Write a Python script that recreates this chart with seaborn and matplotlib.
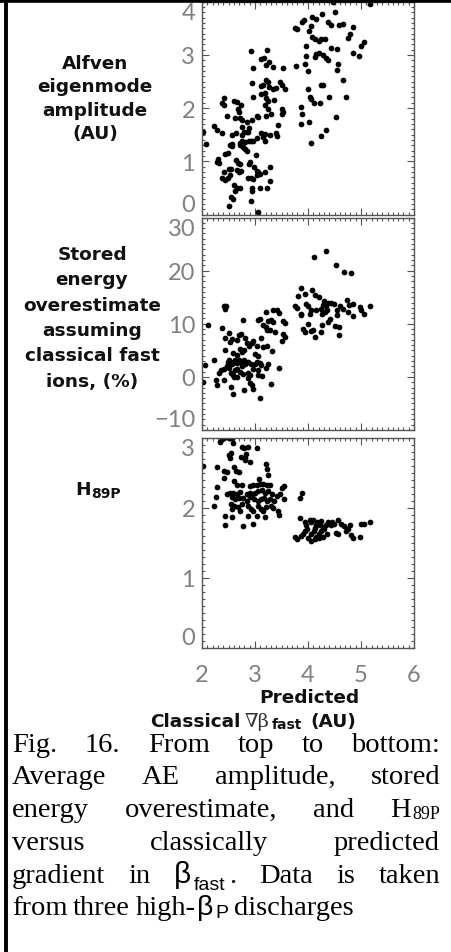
import matplotlib
matplotlib.use("Agg")
import matplotlib.pyplot as plt
import seaborn as sns
import pandas as pd
from matplotlib.ticker import MultipleLocator

# ---------------- data ----------------
# Panel 1: Alfven eigenmode amplitude (AU) vs predicted classical grad beta_fast
ae_x = [4.47, 5.17, 3.75, 3.80, 3.89, 3.92, 4.08, 4.16, 4.27, 4.50, 4.37, 4.43, 4.58, 4.66,
        4.84, 4.05, 4.01, 4.07, 4.14, 4.20, 4.25, 4.32, 4.80, 4.75, 5.06, 5.00, 4.44, 4.55,
        3.96, 4.16, 4.20, 4.28, 4.14, 4.34, 4.37, 3.96, 3.94, 3.78, 4.57, 4.00, 4.54, 4.84,
        4.97, 4.66, 4.24, 4.29, 4.00, 4.03, 4.06, 4.12, 4.22, 4.39, 4.72, 3.86, 3.89, 3.86,
        4.01, 4.52, 4.34, 4.25, 4.06,
        2.93, 3.22, 3.12, 3.17, 3.26, 3.20, 3.34, 3.53, 2.96, 2.94, 3.21, 3.24, 3.12, 3.16,
        3.26, 3.34, 3.39, 3.47, 3.50, 3.56, 3.12, 3.19, 2.97, 3.21, 3.24, 3.35, 3.19, 3.25,
        3.50, 3.53, 3.50, 3.03, 3.06, 3.21, 3.31, 2.94, 3.44, 2.84, 2.75, 2.75, 2.80, 2.84,
        2.87, 2.89, 2.64, 3.12, 3.19, 3.16, 3.39, 3.42, 3.28, 3.03, 2.97, 2.93, 2.88, 2.81,
        2.75, 2.72, 3.18,
        2.41, 2.37, 2.41, 2.61, 2.66, 2.67, 2.69, 2.73, 2.47, 2.62, 2.71, 2.22, 2.28, 2.37,
        2.02, 2.08, 2.56, 2.75, 2.57, 2.56, 2.71, 2.77, 2.81, 2.84, 2.49, 2.43, 2.53, 2.30,
        2.28, 2.32, 2.64, 2.67, 2.71, 3.02, 2.91, 2.89, 2.99, 3.03, 3.05, 3.28, 3.19, 2.42,
        2.51, 2.55, 2.66, 2.69, 2.74, 2.37, 2.44, 2.49, 2.53, 2.87, 2.93, 2.97, 3.03, 3.09,
        3.28, 2.60, 2.66, 2.62, 2.71, 2.94, 2.95, 3.09, 3.22, 2.55, 2.59, 2.92, 2.51, 3.06]
ae_y = [4.00, 3.96, 3.50, 3.48, 3.61, 3.65, 3.71, 3.68, 3.76, 3.80, 3.61, 3.57, 3.57, 3.58,
        3.53, 3.54, 3.44, 3.33, 3.30, 3.27, 3.29, 3.30, 3.39, 3.31, 3.24, 3.16, 3.13, 3.11,
        3.16, 3.02, 3.04, 3.00, 2.96, 2.94, 2.91, 2.98, 2.83, 2.79, 2.83, 2.69, 2.71, 3.04,
        2.97, 2.52, 2.44, 2.44, 2.36, 2.20, 2.17, 2.10, 2.10, 2.20, 2.20, 2.02, 1.88, 1.71,
        1.74, 1.83, 1.58, 1.47, 1.35,
        3.08, 3.10, 2.92, 2.94, 2.87, 2.81, 2.78, 2.75, 2.75, 2.47, 2.52, 2.49, 2.41, 2.43,
        2.39, 2.36, 2.38, 2.50, 2.44, 2.35, 2.27, 2.29, 2.20, 2.19, 2.14, 2.16, 2.05, 1.98,
        1.99, 1.93, 1.89, 1.86, 1.83, 1.85, 1.88, 1.77, 1.69, 1.73, 1.77, 1.64, 1.56, 1.55,
        1.56, 1.63, 1.54, 1.53, 1.52, 1.46, 1.53, 1.47, 1.50, 1.44, 1.39, 1.38, 1.38, 1.36,
        1.39, 1.35, 1.39,
        2.19, 2.10, 2.06, 2.14, 2.12, 1.99, 1.93, 2.06, 1.86, 1.82, 1.81, 1.66, 1.58, 1.54,
        1.55, 1.33, 1.50, 1.49, 1.33, 1.28, 1.30, 1.27, 1.24, 1.19, 1.16, 1.13, 1.30, 1.04,
        0.99, 0.97, 1.02, 0.97, 0.94, 1.11, 0.99, 0.94, 0.89, 0.81, 0.79, 0.89, 0.80, 0.80,
        0.85, 0.85, 0.83, 0.79, 0.81, 0.68, 0.64, 0.68, 0.74, 0.68, 0.68, 0.66, 0.74, 0.77,
        0.63, 0.55, 0.49, 0.44, 0.50, 0.50, 0.44, 0.50, 0.50, 0.33, 0.30, 0.26, 0.16, 0.05]

# Panel 2: stored energy overestimate assuming classical fast ions (%)
we_x = [4.12, 4.34, 4.53, 4.67, 4.81, 3.86, 3.94, 3.81, 4.08, 4.14, 4.20, 3.75, 3.79, 3.97,
        4.00, 3.87, 3.86, 4.06, 4.03, 4.16, 4.24, 4.28, 4.31, 4.34, 4.37, 4.27, 4.33, 4.36,
        4.44, 4.49, 4.61, 4.66, 4.73, 4.78, 4.84, 4.75, 4.84, 4.55, 4.55, 4.98, 5.00, 5.06,
        5.17, 4.00, 3.90, 3.95, 4.05, 4.10, 4.14, 4.24, 4.27, 4.37, 4.41, 4.50, 4.58, 4.58,
        2.41, 2.45, 2.43, 2.12, 2.37, 2.78, 3.05, 3.09, 3.20, 3.34, 3.42, 3.46, 3.24, 3.30,
        3.34, 3.53, 3.57, 3.16, 3.20, 3.23, 3.28, 3.37, 3.52, 3.56, 3.51, 2.50, 2.43, 2.56,
        2.53, 2.69, 2.74, 2.66, 2.81, 2.84, 2.89, 2.94, 2.97, 3.03, 3.12, 3.16, 3.22, 2.44,
        2.59, 2.66, 2.72, 2.75, 2.80, 3.32, 3.00, 3.06, 2.22, 2.06, 2.32, 2.36, 2.41, 2.47,
        2.50, 2.55, 2.57, 2.62, 2.66, 2.70, 2.74, 2.80, 2.81, 2.76, 2.87, 2.92, 3.00, 3.03,
        3.09, 3.12, 3.20, 3.24, 2.97, 3.06, 3.45, 2.62, 2.66, 2.55, 2.59, 2.61, 2.66, 2.72,
        2.78, 2.87, 2.91, 3.05, 3.14, 2.01, 2.26, 2.29, 2.41, 2.55, 2.80, 2.86, 2.90, 2.94,
        2.97, 3.30, 2.59, 3.09, 2.49, 2.50]
we_y = [22.6, 23.75, 21.1, 19.8, 19.6, 16.75, 15.6, 15.3, 16.4, 15.4, 15.1, 13.25, 13.0, 13.75,
        13.4, 11.9, 11.6, 12.6, 11.9, 12.5, 12.8, 13.6, 14.25, 13.4, 13.9, 11.9, 12.2, 12.5,
        13.9, 13.75, 13.25, 12.8, 14.4, 13.6, 13.75, 12.3, 11.4, 12.6, 11.6, 13.1, 12.6, 11.75,
        13.25, 10.0, 9.1, 8.4, 8.6, 8.75, 7.5, 8.4, 9.7, 10.3, 10.9, 9.5, 9.4, 7.8,
        13.25, 13.4, 12.8, 9.7, 9.25, 10.75, 10.8, 10.9, 12.2, 12.5, 12.5, 12.1, 10.6, 10.75,
        10.3, 10.6, 10.1, 9.7, 9.4, 8.9, 8.75, 8.4, 8.1, 7.6, 6.75, 8.25, 7.4, 7.2,
        6.6, 7.8, 8.1, 7.0, 7.4, 6.4, 5.9, 6.4, 6.75, 5.9, 7.4, 5.6, 5.75, 5.0,
        4.5, 4.1, 5.3, 4.7, 5.0, 4.8, 4.4, 3.9, 3.25, 2.2, 0.75, 1.25, 1.56, 2.0,
        1.75, 2.8, 2.4, 3.1, 2.6, 3.25, 2.8, 3.1, 2.5, 2.0, 2.8, 2.4, 2.5, 2.8,
        2.6, 2.2, 1.75, 2.5, 1.56, 1.25, 1.7, 1.25, 1.56, 0.75, 0.3, -0.1, 0.0, 0.9,
        0.6, 0.75, 0.3, 0.3, 0.1, -0.9, -0.5, -1.5, -0.6, -1.9, -2.4, -0.3, -1.1, -1.6,
        -2.2, -1.25, -3.3, -3.9, 2.8, 3.25]

# Panel 3: H89P
h_x = [2.34, 2.375, 2.41, 2.50, 2.53, 2.56, 2.59, 2.75, 2.80, 2.86, 3.04, 2.50, 2.55, 2.52,
       2.83, 2.81, 2.73, 2.81, 2.91, 2.01, 2.28, 2.41, 2.47, 2.61, 2.64, 2.69, 3.21, 3.22,
       3.24, 2.41, 2.61, 3.075, 2.29, 2.66, 2.75, 2.91, 2.97, 3.03, 3.09, 3.16, 3.22, 3.28,
       3.55, 3.51, 2.47, 2.53, 2.59, 2.66, 2.72, 2.84, 2.91, 2.95, 3.00, 3.06, 3.125, 3.19,
       3.25, 3.325, 3.41, 3.47, 3.89, 3.85, 3.55, 2.26, 2.56, 2.625, 2.69, 2.78, 2.84, 2.91,
       2.99, 3.05, 3.11, 3.175, 3.22, 3.28, 3.36, 2.22, 2.55, 2.56, 2.61, 2.675, 2.72, 2.75,
       2.875, 2.925, 2.97, 3.05, 3.11, 3.16, 3.20, 3.30, 3.34, 3.44, 3.45, 2.425, 2.56, 2.86,
       3.03, 3.19, 2.425, 2.78, 2.97,
       3.85, 3.94, 3.97, 4.03, 4.06, 4.09, 3.75, 3.79, 3.875, 3.90, 3.95, 3.99, 4.00, 4.06,
       4.06, 4.11, 4.14, 4.16, 4.17, 4.22, 4.25, 4.16, 4.20, 4.25, 4.28, 4.31, 4.34, 4.375,
       4.425, 4.45, 4.49, 4.36, 4.28, 4.53, 4.56, 4.575, 4.625, 4.675, 4.72, 4.76, 4.80, 4.81,
       4.84, 4.98, 5.00, 5.06, 5.17, 4.125, 4.20]
h_y = [2.94, 2.98, 3.00, 3.00, 2.99, 3.00, 2.93, 2.87, 2.86, 2.87, 2.86, 2.76, 2.78, 2.71,
       2.77, 2.71, 2.72, 2.68, 2.66, 2.60, 2.58, 2.52, 2.51, 2.58, 2.53, 2.51, 2.63, 2.55,
       2.47, 2.43, 2.38, 2.41, 2.30, 2.32, 2.32, 2.31, 2.32, 2.33, 2.34, 2.34, 2.32, 2.32,
       2.31, 2.28, 2.20, 2.21, 2.21, 2.20, 2.23, 2.20, 2.21, 2.18, 2.21, 2.24, 2.25, 2.21,
       2.24, 2.20, 2.17, 2.19, 2.21, 2.14, 2.12, 2.15, 2.15, 2.12, 2.14, 2.14, 2.10, 2.15,
       2.12, 2.10, 2.12, 2.14, 2.10, 2.12, 2.10, 2.02, 2.06, 1.98, 2.02, 2.01, 1.96, 2.05,
       2.02, 1.98, 1.95, 2.02, 1.98, 1.95, 2.01, 2.02, 2.00, 1.95, 1.90, 1.88, 1.87, 1.88,
       1.88, 1.87, 1.75, 1.74, 1.77,
       1.85, 1.80, 1.76, 1.82, 1.79, 1.82, 1.58, 1.56, 1.60, 1.62, 1.67, 1.70, 1.57, 1.52,
       1.62, 1.67, 1.71, 1.75, 1.80, 1.76, 1.81, 1.58, 1.62, 1.67, 1.72, 1.69, 1.76, 1.79,
       1.76, 1.80, 1.77, 1.62, 1.58, 1.64, 1.62, 1.83, 1.77, 1.74, 1.67, 1.69, 1.76, 1.61,
       1.57, 1.58, 1.77, 1.77, 1.80, 1.55, 1.57]

x_ticks = [2, 3, 4, 5, 6]
ae_ticks = [0, 1, 2, 3, 4]
we_ticks = [-10, 0, 10, 20, 30]
h_ticks = [0, 1, 2, 3]

# ---------------- figure ----------------
W, H, DPI = 451, 953, 100
sns.set_theme(style="ticks")
plt.rcParams["font.family"] = ["Lato", "DejaVu Sans"]
plt.rcParams["axes.unicode_minus"] = True

fig = plt.figure(figsize=(W / DPI, H / DPI), dpi=DPI)
fig.patch.set_facecolor("white")


def fx(x):
    return x / W


def fy(y):
    return 1 - y / H


AX_L, AX_R = 202, 414
TICK_COLOR = "#808080"
SPINE_COLOR = "#555555"
TICK_FONT = dict(family=["Lato", "DejaVu Sans"], weight="normal", size=17, color=TICK_COLOR)

panels = [
    dict(x=ae_x, y=ae_y, top=2.7, bot=215.5, ylim=(0, 4), ticks=ae_ticks, minor=0.1, xlab=False),
    dict(x=we_x, y=we_y, top=218.5, bot=431.0, ylim=(-10, 30), ticks=we_ticks, minor=1.0, xlab=False),
    dict(x=h_x, y=h_y, top=438.7, bot=648.7, ylim=(0, 3), ticks=h_ticks, minor=0.1, xlab=True),
]

for p in panels:
    ax = fig.add_axes([fx(AX_L), fy(p["bot"]), fx(AX_R - AX_L), (p["bot"] - p["top"]) / H])
    df = pd.DataFrame({"x": p["x"], "y": p["y"]})
    sns.scatterplot(data=df, x="x", y="y", ax=ax, color="black", s=17, linewidth=0,
                    legend=False, clip_on=True)
    ax.set_xlim(2, 6)
    ax.set_ylim(*p["ylim"])
    ax.set_xlabel("")
    ax.set_ylabel("")
    ax.set_xticks(x_ticks)
    ax.xaxis.set_minor_locator(MultipleLocator(0.1))
    ax.set_yticks(p["ticks"])
    ax.yaxis.set_minor_locator(MultipleLocator(p["minor"]))
    for s in ax.spines.values():
        s.set_color(SPINE_COLOR)
        s.set_linewidth(1.0)
        s.set_visible(True)
    ax.tick_params(which="both", direction="in", top=True, right=True, color=SPINE_COLOR,
                   width=0.8)
    ax.tick_params(which="major", length=5)
    ax.tick_params(which="minor", length=2.5)
    ax.tick_params(axis="y", pad=5)
    ax.tick_params(axis="x", pad=12)
    labs = []
    for v in p["ticks"]:
        labs.append("\u2212" + str(abs(v)) if v < 0 else str(v))
    ax.set_yticklabels(labs, fontdict=TICK_FONT)
    tl = ax.get_yticklabels()
    tl[0].set_va("bottom")
    tl[-1].set_va("top")
    if p["xlab"]:
        ax.set_xticklabels([str(v) for v in x_ticks], fontdict=TICK_FONT)
    else:
        ax.set_xticklabels([])

# ---------------- left labels ----------------
LAB = dict(family=["DejaVu Sans"], weight="bold", size=13.3, color="#111111",
           ha="center", va="baseline")
for i, s in enumerate(["Alfven", "eigenmode", "amplitude", "(AU)"]):
    fig.text(fx(95), fy(69 + i * 23.3), s, **LAB)
for i, s in enumerate(["Stored", "energy", "overestimate", "assuming",
                       "classical fast", "ions, (%)"]):
    fig.text(fx(92), fy(260 + i * 25.3), s, **LAB)

renderer = fig.canvas.get_renderer()


def seg_w(txt, **kw):
    t = fig.text(0, 0, txt, **kw)
    w = t.get_window_extent(renderer).width
    t.remove()
    return w


def draw_segs(x0, ybase, segs):
    x = x0
    for seg in segs:
        txt, kw, dy = seg[:3]
        pre = seg[3] if len(seg) > 3 else 0
        x += pre
        fig.text(fx(x), fy(ybase + dy), txt, ha="left", va="baseline", **kw)
        x += seg_w(txt, **kw)
    return x


def segs_w(segs):
    return sum(seg_w(s[0], **s[1]) + (s[3] if len(s) > 3 else 0) for s in segs)


BOLD = dict(family=["DejaVu Sans"], weight="bold", size=13.3, color="#111111")
BOLD_S = dict(family=["DejaVu Sans"], weight="bold", size=10, color="#111111")
SYM = dict(family=["DejaVu Serif"], weight="light", size=14, color="#333333")

# H89P label
draw_segs(75, 495, [("H", BOLD, 0), ("89P", BOLD_S, 3, 1)])

# x-axis label
fig.text(fx(309), fy(703), "Predicted", ha="center", va="baseline", **BOLD)
draw_segs(150, 727, [("Classical", BOLD, 0), ("\u2207\u03b2", SYM, 0, 4),
                     ("fast", BOLD_S, 2, 2.5), ("(AU)", BOLD, 0, 8)])

# ---------------- caption (justified) ----------------
SER = dict(family=["Liberation Serif", "DejaVu Serif"], size=20.5, color="black")
SER_S = dict(family=["Liberation Serif", "DejaVu Serif"], size=13, color="black")
GRK = dict(family=["Liberation Sans", "DejaVu Sans"], size=21.5, color="black")
GRK6 = dict(family=["Liberation Sans", "DejaVu Sans"], size=20.5, color="black")
GRK_S = dict(family=["Liberation Sans", "DejaVu Sans"], size=14, color="black")

cap_lines = [
    [[("Fig.", SER, 0)], [("16.", SER, 0)], [("From", SER, 0)], [("top", SER, 0)],
     [("to", SER, 0)], [("bottom:", SER, 0)]],
    [[("Average", SER, 0)], [("AE", SER, 0)], [("amplitude,", SER, 0)], [("stored", SER, 0)]],
    [[("energy", SER, 0)], [("overestimate,", SER, 0)], [("and", SER, 0)],
     [("H", SER, 0), ("89P", SER_S, 2, 1)]],
    [[("versus", SER, 0)], [("classically", SER, 0)], [("predicted", SER, 0)]],
    [[("gradient", SER, 0)], [("in", SER, 0)],
     [("\u03b2", GRK, 0), ("fast", GRK_S, 7, 3), (".", SER, 0, 3)],
     [("Data", SER, 0)], [("is", SER, 0)], [("taken", SER, 0)]],
    [[("from", SER, 0)], [("three", SER, 0)], [("high-", SER, 0), ("\u03b2", GRK6, 0, 2),
                                              ("P", GRK_S, 3, 1.5)], [("discharges", SER, 0)]],
]
cap_base = [752, 784.5, 817, 850, 883, 915]
CAP_L, CAP_R = 12, 440

for li, (words, yb) in enumerate(zip(cap_lines, cap_base)):
    widths = [segs_w(w) for w in words]
    if li == len(cap_lines) - 1:
        gap = 5.5
    else:
        gap = (CAP_R - CAP_L - sum(widths)) / (len(words) - 1)
    x = CAP_L
    for w, wd in zip(words, widths):
        draw_segs(x, yb, w)
        x += wd + gap

# ---------------- scanned frame ----------------
fig.add_artist(plt.Line2D([0, 1], [fy(1.5), fy(1.5)], color="black", lw=2.6,
                          transform=fig.transFigure))
fig.add_artist(plt.Line2D([fx(6), fx(6)], [0, fy(0)], color="black", lw=2.8,
                          transform=fig.transFigure))

fig.savefig("out.png", dpi=DPI, facecolor="white")
